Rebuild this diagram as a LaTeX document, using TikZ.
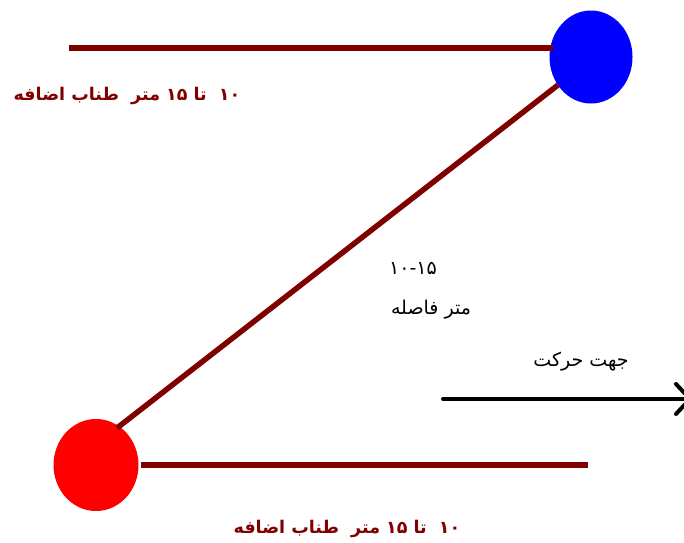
\documentclass[tikz,border=0pt]{standalone}
\usepackage{fontspec}
\usetikzlibrary{arrows.meta,shapes.geometric}
\TeXXeTstate=1
\newfontfamily\arabicfont[Script=Arabic]{DejaVu Sans}
\definecolor{rope}{HTML}{800000}
\definecolor{bluep}{HTML}{0000FF}
\definecolor{redp}{HTML}{FF0000}
\tikzset{
  ropeline/.style={draw=rope, line width=5.5pt},
  ropelabel/.style={text=rope, font=\arabicfont\fontsize{17.5}{20}\selectfont\bfseries, inner sep=0pt},
  plainlabel/.style={text=black, font=\arabicfont\fontsize{19}{22}\selectfont, inner sep=0pt},
  dirarrow/.style={draw=black, line width=4pt, line cap=round, -{Straight Barb[length=14pt, width=30pt, line width=4pt, round]}}
}
\begin{document}
\begin{tikzpicture}[x=1pt, y=-1pt]
\useasboundingbox (0,0) rectangle (684,542);
% persons
\node[ellipse, fill=bluep, minimum width=83pt, minimum height=93pt, inner sep=0pt] (blue) at (591,57) {};
\node[ellipse, fill=redp, minimum width=85pt, minimum height=92pt, inner sep=0pt] (red) at (96,465) {};
% rope end coordinates
\coordinate (topend) at (69,48);
\coordinate (botend) at (588,465);
\coordinate (arrS) at (443,399);
\coordinate (arrE) at (692,399);
% ropes
\draw[ropeline] (topend) -- (553,48);
\draw[ropeline] (558,85) -- (117,428);
\draw[ropeline] (141,465) -- (botend);
% direction arrow
\draw[dirarrow] (arrS) -- (arrE);
% labels
\node[ropelabel] (toplab) at (127,96) {\beginR ۱۰\ \ تا ۱۵ متر\ \ طناب اضافه\endR};
\node[ropelabel] (botlab) at (347,529) {\beginR ۱۰\ \ تا ۱۵ متر\ \ طناب اضافه\endR};
\node[plainlabel] (dist1) at (413,268) {۱۰-۱۵};
\node[plainlabel] (dist2) at (431,310) {\beginR متر فاصله\endR};
\node[plainlabel] (dir) at (581,362) {\beginR جهت حرکت\endR};
\end{tikzpicture}
\end{document}
